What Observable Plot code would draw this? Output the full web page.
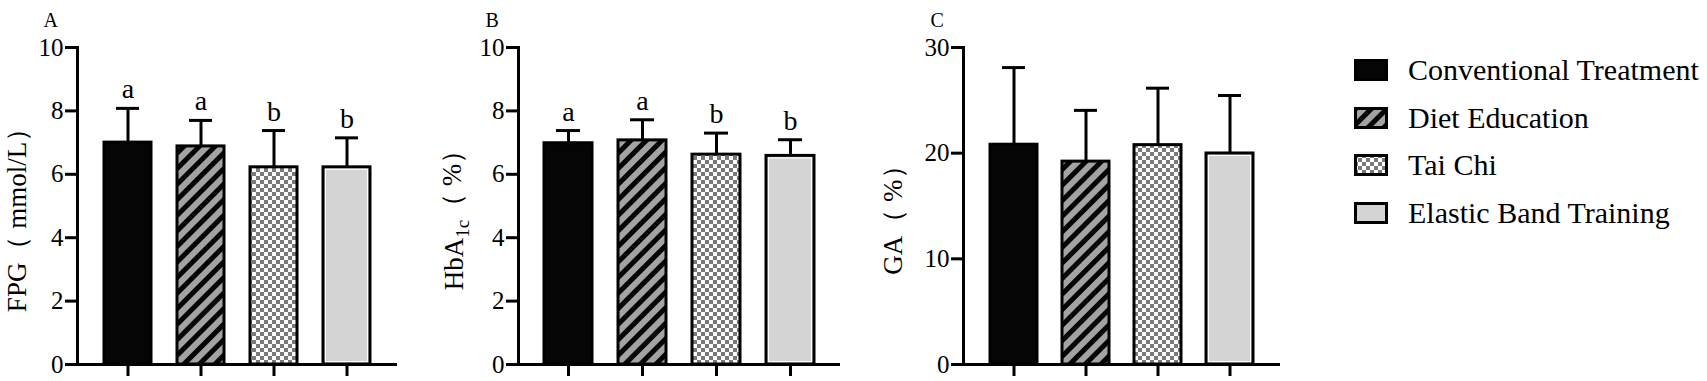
<!DOCTYPE html>
<html>
<head>
<meta charset="utf-8">
<script src="https://cdn.jsdelivr.net/npm/d3@7"></script>
<script src="https://cdn.jsdelivr.net/npm/@observablehq/plot@0.6"></script>
<style>
  html, body { margin: 0; padding: 0; background: white; }
  #wrap { position: relative; width: 1707px; height: 381px; overflow: hidden; font-family: "Liberation Serif", "Times New Roman", serif; color: black; }
  .panel { position: absolute; top: 0; }
  .legrow { position: absolute; left: 1354px; height: 30px; }
  .legrow svg { position: absolute; left: 0; }
  .legrow span { position: absolute; left: 54px; top: 0; font-size: 30px; line-height: 30px; white-space: nowrap; }
</style>
</head>
<body>
<svg width="0" height="0" style="position:absolute">
  <defs>
    <pattern id="diag" patternUnits="userSpaceOnUse" width="11" height="11" patternTransform="rotate(45)">
      <rect width="11" height="11" fill="#a3a3a3"></rect>
      <rect width="5" height="11" fill="#050505"></rect>
    </pattern>
    <pattern id="check" patternUnits="userSpaceOnUse" width="8" height="8">
      <rect width="8" height="8" fill="#ffffff"></rect>
      <rect width="4" height="4" fill="#7a7a7a"></rect>
      <rect x="4" y="4" width="4" height="4" fill="#7a7a7a"></rect>
    </pattern>
  </defs>
</svg>
<div id="wrap"></div>
<script>
// ---- data ----
const groups = ["Conventional Treatment", "Diet Education", "Tai Chi", "Elastic Band Training"];
const groupFills = ["#050505", "url(#diag)", "url(#check)", "#d4d4d4"];

const fpgMean = [7.0, 6.88, 6.22, 6.22];
const fpgSD = [1.08, 0.82, 1.16, 0.93];
const fpgLetters = ["a", "a", "b", "b"];

const hbMean = [6.98, 7.07, 6.62, 6.58];
const hbSD = [0.40, 0.65, 0.68, 0.51];
const hbLetters = ["a", "a", "b", "b"];

const gaMean = [20.8, 19.2, 20.76, 19.97];
const gaSD = [7.3, 4.85, 5.39, 5.49];

const ticks10 = [0, 2, 4, 6, 8, 10];
const ticks30 = [0, 10, 20, 30];

const wrap = document.getElementById("wrap");

function panel(cfg) {
  const data = groups.map((g, i) => ({
    g, m: cfg.mean[i], s: cfg.sd[i], fillv: groupFills[i],
    lab: cfg.letters ? cfg.letters[i] : ""
  }));
  const marks = [
    Plot.barY(data, {x: "g", y: "m", fill: "fillv", stroke: "black", strokeWidth: 3}),
    Plot.barY(data.filter((d, i) => i === 3), {x: "g", y: "m", fill: "none", stroke: "white", strokeWidth: 1, inset: 2.5}),
    Plot.ruleX(data, {x: "g", y1: "m", y2: d => d.m + d.s, strokeWidth: 3}),
    Plot.tickY(data, {x: "g", y: d => d.m + d.s, strokeWidth: 3, insetLeft: 12, insetRight: 12}),
    Plot.axisY({ticks: cfg.ticks, tickSize: 12, tickPadding: 2, strokeWidth: 3, label: null}),
    Plot.axisX({tickSize: 12, tickFormat: () => "", strokeWidth: 3, label: null}),
    Plot.ruleY([0], {strokeWidth: 3}),
    Plot.frame({anchor: "left", strokeWidth: 3}),
    Plot.text([cfg.title], {frameAnchor: "top-left", textAnchor: "start", dx: cfg.tdx, dy: -34.5, fontSize: 20}),
    Plot.text([cfg.label], {frameAnchor: "left", textAnchor: "middle", rotate: -90, dx: -cfg.lo, dy: 7.5, fontSize: 27})
  ];
  if (cfg.letters) {
    marks.push(Plot.text(data, {x: "g", y: d => d.m + d.s, text: "lab", lineAnchor: "bottom", dy: -10, fontSize: 28}));
  }
  const svg = Plot.plot({
    width: 420, height: 381,
    marginLeft: 77, marginRight: cfg.mr, marginTop: 47, marginBottom: 17,
    style: {fontFamily: "'Liberation Serif', 'Times New Roman', serif", fontSize: "25px", color: "black", background: "transparent", overflow: "visible"},
    x: {domain: groups, padding: 0.35, axis: null},
    y: {domain: [0, cfg.yMax], axis: null},
    color: {type: "identity"},
    marks
  });
  const div = document.createElement("div");
  div.className = "panel";
  div.style.left = cfg.left + "px";
  div.appendChild(svg);
  wrap.appendChild(div);
  return svg;
}

panel({left: 0, mr: 23, mean: fpgMean, sd: fpgSD, letters: fpgLetters, ticks: ticks10, yMax: 10,
  title: "A", tdx: -34, label: "FPG（ mmol/L）", lo: 60});
const svgB = panel({left: 441, mr: 21, mean: hbMean, sd: hbSD, letters: hbLetters, ticks: ticks10, yMax: 10,
  title: "B", tdx: -33, label: "HbA1c（ %）", lo: 64});
panel({left: 886, mr: 26, mean: gaMean, sd: gaSD, letters: null, ticks: ticks30, yMax: 30,
  title: "C", tdx: -33, label: "GA（ %）", lo: 70});

// subscript for HbA1c
d3.select(svgB).selectAll("text").filter(function () { return this.textContent === "HbA1c（ %）"; })
  .each(function () {
    const t = d3.select(this);
    t.text(null);
    t.append("tspan").text("HbA");
    t.append("tspan").attr("dy", "0.3em").attr("font-size", 19).text("1c");
    t.append("tspan").attr("dy", "-0.3em").text("（ %）");
  });

// legend
const legCenters = [70, 118, 165, 213];
groups.forEach((g, i) => {
  const row = document.createElement("div");
  row.className = "legrow";
  row.style.top = (legCenters[i] - 15) + "px";
  row.innerHTML = `<svg width="34" height="22" style="top:4px"><rect x="1.5" y="1.5" width="31" height="19" fill="${groupFills[i]}" stroke="black" stroke-width="3"></rect></svg><span>${g}</span>`;
  wrap.appendChild(row);
});
</script>
</body>
</html>
